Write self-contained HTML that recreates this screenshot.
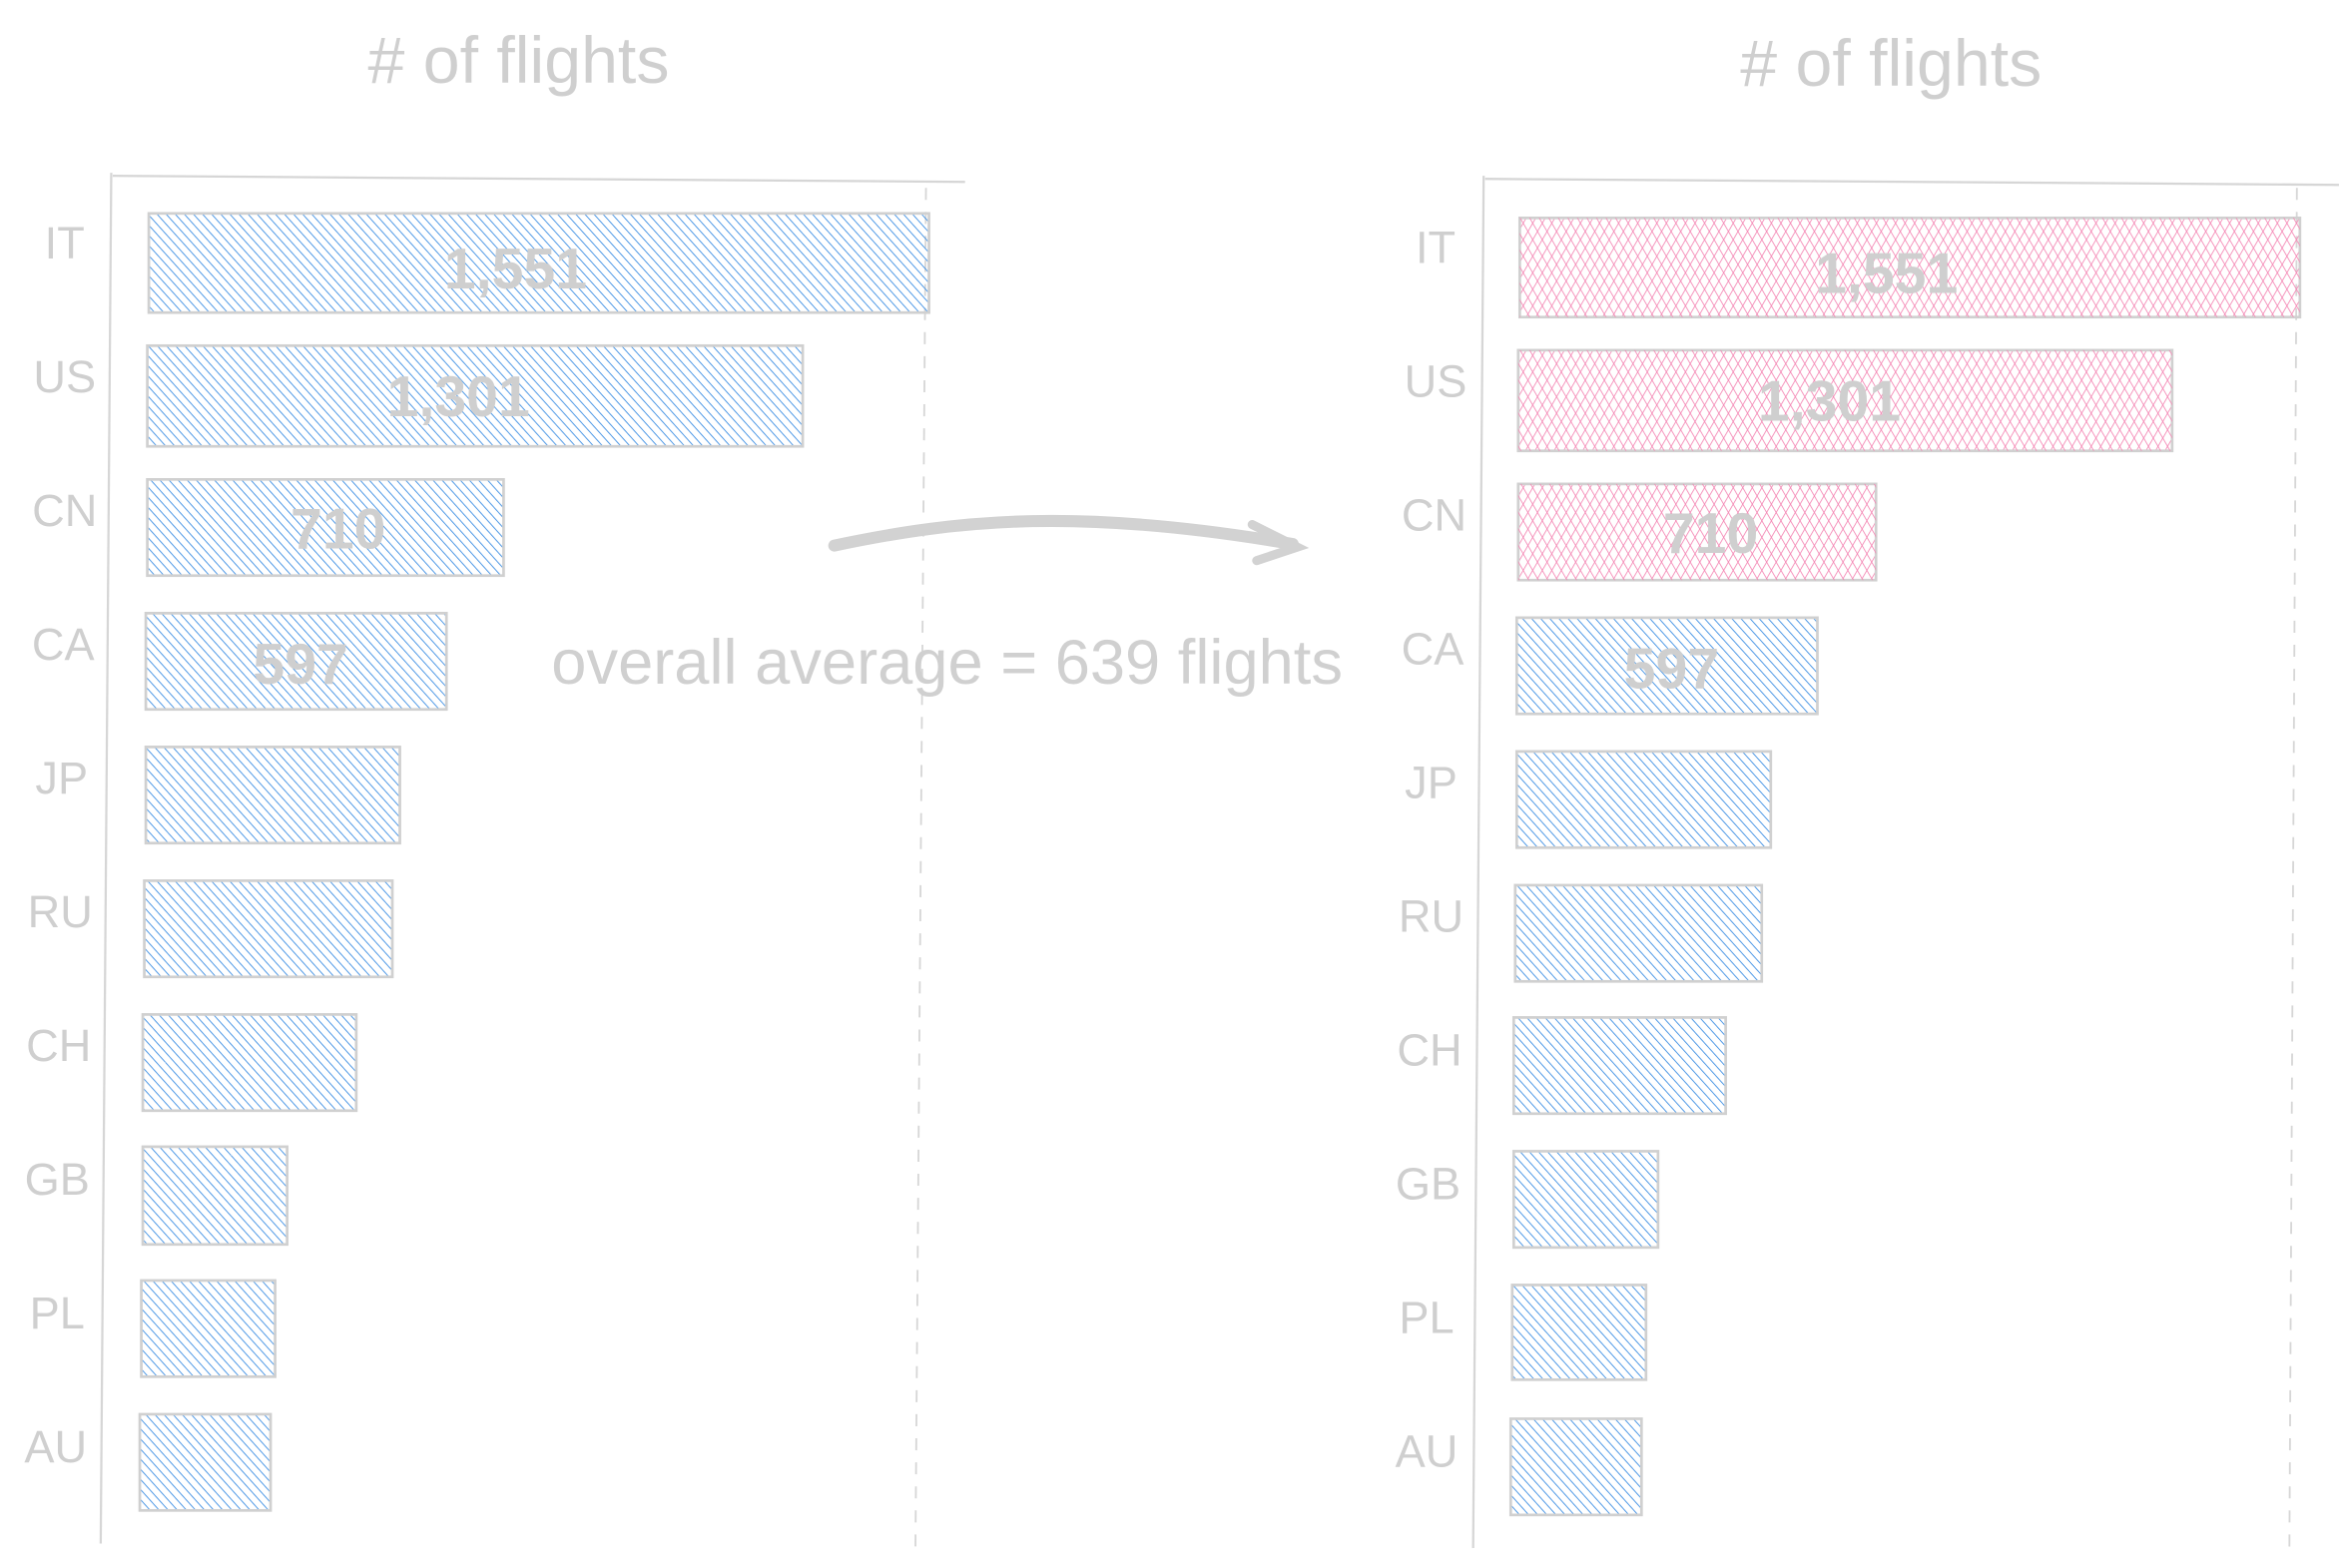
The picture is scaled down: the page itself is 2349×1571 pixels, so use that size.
<!DOCTYPE html>
<html><head><meta charset="utf-8"><style>
html,body{margin:0;padding:0;background:#fff;}
svg{display:block;}
text{font-family:"Liberation Sans",sans-serif;fill:#cfcfcf;}
</style></head><body>
<svg width="2349" height="1571" viewBox="0 0 1560 1043.3" preserveAspectRatio="none" xmlns="http://www.w3.org/2000/svg">
<defs>
<pattern id="hb" width="4.5" height="4.5" patternUnits="userSpaceOnUse" patternTransform="rotate(-42)">
<line x1="0" y1="0" x2="0" y2="4.5" stroke="#3f90e4" stroke-width="1.2"/>
</pattern>
<pattern id="hp" width="5.5" height="5.5" patternUnits="userSpaceOnUse" patternTransform="rotate(30)">
<line x1="0" y1="0" x2="0" y2="5.5" stroke="#f484b2" stroke-width="1.1"/>
</pattern>
<pattern id="hp2" width="5.5" height="5.5" patternUnits="userSpaceOnUse" patternTransform="rotate(-30)">
<line x1="0" y1="0" x2="0" y2="5.5" stroke="#f484b2" stroke-width="1.1"/>
</pattern>
</defs>
<rect width="1560" height="1044" fill="#fff"/>

<text x="345" y="55" font-size="44" text-anchor="middle">#  of  flights</text>
<text x="1258" y="57" font-size="44" text-anchor="middle">#  of  flights</text>

<g stroke="#d6d6d6" fill="none">
<line x1="74" y1="115" x2="67" y2="1027" stroke-width="1.5"/>
<line x1="75" y1="117" x2="642" y2="121" stroke-width="1.5"/>
<line x1="616" y1="125" x2="609" y2="1030" stroke-width="1.2" stroke-dasharray="8,8"/>
<line x1="987" y1="117" x2="980" y2="1030" stroke-width="1.5"/>
<line x1="988" y1="119" x2="1556" y2="123" stroke-width="1.5"/>
<line x1="1528" y1="125" x2="1523" y2="1033" stroke-width="1.2" stroke-dasharray="8,8"/>
</g>

<g stroke="#d0d0d0" stroke-width="1.8">
<rect x="99" y="142" width="519" height="66" fill="url(#hb)"/>
<rect x="98" y="230" width="436" height="67" fill="url(#hb)"/>
<rect x="98" y="319" width="237" height="64" fill="url(#hb)"/>
<rect x="97" y="408" width="200" height="64" fill="url(#hb)"/>
<rect x="97" y="497" width="169" height="64" fill="url(#hb)"/>
<rect x="96" y="586" width="165" height="64" fill="url(#hb)"/>
<rect x="95" y="675" width="142" height="64" fill="url(#hb)"/>
<rect x="95" y="763" width="96" height="65" fill="url(#hb)"/>
<rect x="94" y="852" width="89" height="64" fill="url(#hb)"/>
<rect x="93" y="941" width="87" height="64" fill="url(#hb)"/>
</g>
<g stroke="#d0d0d0" stroke-width="1.8">
<rect x="1011" y="145" width="519" height="66" fill="url(#hp)"/>
<rect x="1011" y="145" width="519" height="66" fill="url(#hp2)" stroke="none"/>
<rect x="1010" y="233" width="435" height="67" fill="url(#hp)"/>
<rect x="1010" y="233" width="435" height="67" fill="url(#hp2)" stroke="none"/>
<rect x="1010" y="322" width="238" height="64" fill="url(#hp)"/>
<rect x="1010" y="322" width="238" height="64" fill="url(#hp2)" stroke="none"/>
<rect x="1009" y="411" width="200" height="64" fill="url(#hb)"/>
<rect x="1009" y="500" width="169" height="64" fill="url(#hb)"/>
<rect x="1008" y="589" width="164" height="64" fill="url(#hb)"/>
<rect x="1007" y="677" width="141" height="64" fill="url(#hb)"/>
<rect x="1007" y="766" width="96" height="64" fill="url(#hb)"/>
<rect x="1006" y="855" width="89" height="63" fill="url(#hb)"/>
<rect x="1005" y="944" width="87" height="64" fill="url(#hb)"/>
</g>

<g font-size="30" text-anchor="middle">
<text x="43" y="172">IT</text><text x="43" y="261">US</text><text x="43" y="350">CN</text>
<text x="42" y="439">CA</text><text x="41" y="528">JP</text><text x="40" y="617">RU</text>
<text x="39" y="706">CH</text><text x="38" y="795">GB</text><text x="38" y="884">PL</text>
<text x="37" y="973">AU</text>
<text x="955" y="175">IT</text><text x="955" y="264">US</text><text x="954" y="353">CN</text>
<text x="953" y="442">CA</text><text x="952" y="531">JP</text><text x="952" y="620">RU</text>
<text x="951" y="709">CH</text><text x="950" y="798">GB</text><text x="949" y="887">PL</text>
<text x="949" y="976">AU</text>
</g>

<g font-size="38" text-anchor="middle" font-weight="bold" style="fill:#d2d2d2">
<text x="343" y="192">1,551</text><text x="305" y="277">1,301</text>
<text x="225" y="365">710</text><text x="200" y="455">597</text>
<text x="1255" y="195">1,551</text><text x="1217" y="280">1,301</text>
<text x="1138" y="368">710</text><text x="1112" y="458">597</text>
</g>

<g stroke="#d2d2d2" stroke-linecap="round" fill="none">
<path d="M555 363 C 640 345, 720 338, 860 362" stroke-width="8"/>
<path d="M833 349 L 863 364 L 836 373" stroke-width="6"/>
</g>
<text x="630" y="455" font-size="42" text-anchor="middle" style="fill:#d0d0d0">overall average = 639 flights</text>
</svg>
</body></html>
